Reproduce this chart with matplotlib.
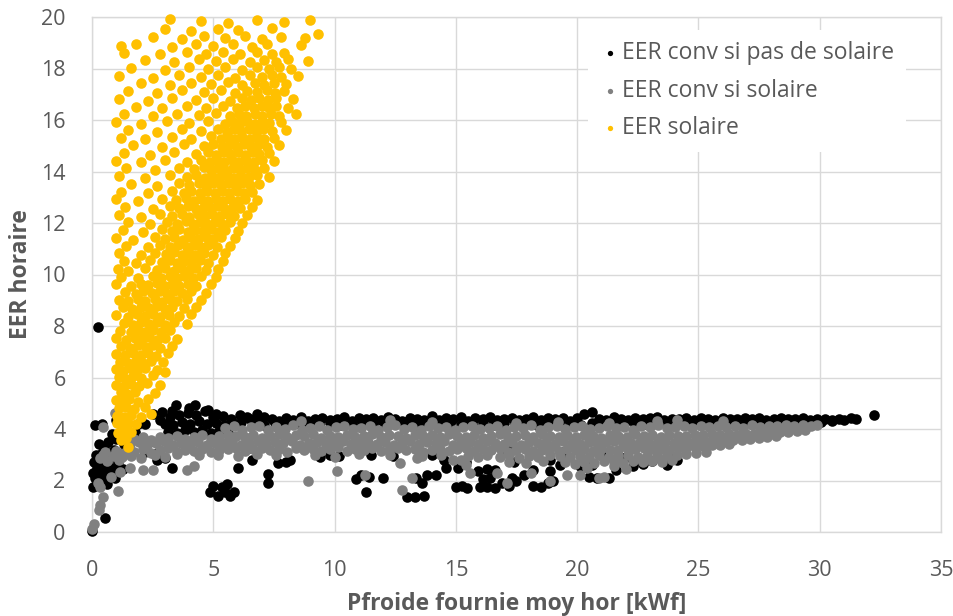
import matplotlib
matplotlib.use("Agg")
import matplotlib.pyplot as plt

# --- Data: hourly EER vs mean hourly cooling power ---
# EER conv si pas de solaire (black)
conv_sans_solaire = [
    # near origin
    (0.00, 0.05), (0.55, 0.55), (0.25, 7.95),
    (0.04, 1.75), (0.12, 2.10), (0.22, 2.50), (0.15, 3.00), (0.30, 2.20), (0.36, 2.75),
    (0.42, 1.95), (0.48, 2.40), (0.50, 3.30), (0.58, 2.10), (0.62, 2.62), (0.66, 3.50),
    (0.72, 2.30), (0.78, 2.92), (0.82, 3.80), (0.86, 2.50), (0.92, 3.20), (0.96, 2.10),
    (1.00, 3.62), (1.06, 2.72), (1.10, 4.22), (1.16, 3.02), (1.22, 3.90), (0.30, 3.40),
    (0.20, 1.85), (0.40, 3.05), (0.62, 1.85), (1.26, 2.45), (1.32, 3.40), (1.40, 4.00),
    (1.50, 3.70), (0.05, 2.30), (0.10, 2.70), (0.12, 4.15), (0.40, 4.20), (1.00, 4.35),
    (1.90, 4.20), (2.20, 4.20), (1.77, 3.90), (2.10, 3.60), (2.30, 3.45), (2.70, 3.07),
    (3.00, 2.87), (2.20, 3.10), (1.50, 3.50), (1.36, 4.04), (2.70, 2.80),
    # cluster at low power
    (3.45, 4.93), (4.25, 4.93), (2.50, 4.60), (2.90, 4.65), (5.10, 4.60), (3.20, 4.45),
    (3.60, 4.55), (3.95, 4.62), (4.30, 4.55), (4.65, 4.70), (5.00, 4.45), (5.40, 4.52),
    (5.75, 4.40), (6.10, 4.55), (3.00, 4.20), (3.35, 4.15), (3.70, 4.28), (4.05, 4.20),
    (4.40, 4.30), (4.75, 4.18), (5.10, 4.25), (5.45, 4.15), (5.80, 4.22), (6.15, 4.28),
    (3.15, 3.90), (3.50, 3.85), (3.85, 3.95), (4.20, 3.88), (4.55, 3.96), (4.90, 3.85),
    (5.25, 3.92), (5.60, 3.85), (2.80, 4.35), (3.30, 4.70), (4.00, 4.80), (4.80, 4.75),
    (6.40, 4.45), (6.80, 4.60),
    # low values
    (3.30, 2.48), (4.85, 1.55), (5.00, 1.80), (5.20, 1.40), (5.35, 1.75), (5.50, 1.55),
    (5.70, 1.38), (5.85, 1.55), (5.55, 1.85), (6.00, 2.50), (6.60, 2.80), (6.50, 3.25),
    (7.25, 2.25), (7.25, 1.90), (7.65, 2.68), (8.00, 2.70), (8.16, 2.80), (9.40, 2.90),
    (9.80, 3.00), (10.20, 2.95), (10.90, 2.05), (11.10, 2.20), (11.40, 2.15), (11.30, 1.55),
    (12.00, 2.10), (13.00, 1.35), (13.30, 1.35), (13.35, 2.10), (13.60, 1.90), (13.70, 1.40),
    (13.80, 2.20), (14.20, 2.20), (14.50, 2.80), (14.60, 2.50), (15.10, 2.50), (15.00, 1.75),
    (15.25, 1.80), (15.45, 1.70), (15.90, 2.35), (16.00, 1.75), (16.30, 1.75), (16.10, 2.05),
    (16.40, 2.10), (15.40, 2.70), (16.60, 1.70), (16.90, 1.90), (17.20, 1.80), (17.30, 2.10),
    (17.50, 2.00), (17.80, 2.20), (18.20, 1.80), (18.50, 1.75), (18.80, 1.90), (19.00, 2.00),
    (18.90, 2.35), (19.30, 2.60), (18.20, 2.40), (18.90, 2.80), (17.40, 2.70), (16.30, 2.45),
    (16.60, 2.40), (19.40, 3.10), (19.60, 2.90), (20.10, 2.55), (20.40, 2.70), (20.60, 2.60),
    (20.50, 2.15), (20.80, 2.10), (21.60, 2.40), (21.30, 2.10), (22.30, 2.55), (22.70, 2.65),
    (23.10, 2.75), (23.70, 2.60), (24.10, 2.80), (23.85, 2.90),
    (11.50, 3.00), (12.40, 2.95), (14.00, 3.00), (16.90, 3.20), (17.30, 3.20), (21.00, 3.00),
    (22.00, 2.90),
    # upper band
    (6.5, 4.40), (6.8, 4.34), (7.1, 4.45), (7.4, 4.38), (7.7, 4.31), (8.0, 4.42), (8.3, 4.36),
    (8.6, 4.47), (8.9, 4.33), (9.2, 4.40), (9.5, 4.44), (9.8, 4.35), (10.1, 4.39), (10.4, 4.46),
    (10.7, 4.32), (11.0, 4.41), (11.3, 4.37), (11.6, 4.43), (11.9, 4.34), (12.2, 4.48),
    (12.5, 4.38), (12.8, 4.33), (13.1, 4.44), (13.4, 4.40), (13.7, 4.36), (14.0, 4.52),
    (14.3, 4.35), (14.6, 4.42), (14.9, 4.38), (15.2, 4.45), (15.5, 4.33), (15.8, 4.41),
    (16.1, 4.37), (16.4, 4.46), (16.7, 4.34), (17.0, 4.40), (17.3, 4.43), (17.6, 4.36),
    (17.9, 4.39), (18.2, 4.47), (18.5, 4.35), (18.8, 4.41), (19.1, 4.38), (19.4, 4.44),
    (19.7, 4.33), (20.0, 4.42), (20.3, 4.58), (20.6, 4.66), (20.9, 4.40), (21.2, 4.36),
    (21.5, 4.45), (21.8, 4.39), (22.1, 4.34), (22.4, 4.43), (22.7, 4.37), (23.0, 4.41),
    (23.3, 4.46), (23.6, 4.35), (23.9, 4.40), (24.2, 4.38), (24.5, 4.44), (24.8, 4.36),
    (25.1, 4.42), (25.4, 4.39), (25.7, 4.35), (26.0, 4.43), (26.3, 4.40), (26.6, 4.37),
    (26.9, 4.41), (27.2, 4.38), (27.5, 4.44), (27.8, 4.36), (28.1, 4.40), (28.4, 4.42),
    (28.7, 4.37), (29.0, 4.39), (29.3, 4.41), (29.6, 4.36), (29.9, 4.40), (30.2, 4.38),
    (30.5, 4.35), (30.8, 4.37), (31.0, 4.34), (31.30, 4.43), (31.50, 4.38), (32.25, 4.53),
    (6.65, 4.20), (7.10, 4.16), (7.55, 4.24), (8.00, 4.18), (8.45, 4.22), (8.90, 4.15),
    (9.35, 4.21), (9.80, 4.25), (10.25, 4.17), (10.70, 4.23), (11.15, 4.19), (11.60, 4.14),
    (12.05, 4.22), (12.50, 4.18), (12.95, 4.26), (13.40, 4.16), (13.85, 4.21), (14.30, 4.19),
    (14.75, 4.24), (15.20, 4.15), (15.65, 4.20), (16.10, 4.23), (16.55, 4.17), (17.00, 4.22),
    (17.45, 4.18), (17.90, 4.25), (18.35, 4.16), (18.80, 4.21), (19.25, 4.19), (19.70, 4.24),
    (20.15, 4.17), (20.60, 4.22), (21.05, 4.20), (21.50, 4.18), (21.95, 4.23), (22.40, 4.16),
    (22.85, 4.21), (23.30, 4.25), (23.75, 4.19), (24.20, 4.22), (24.65, 4.18), (25.10, 4.24),
    (25.55, 4.20), (26.00, 4.23), (26.45, 4.21), (26.90, 4.25), (27.35, 4.22), (27.80, 4.24),
    (28.25, 4.23), (28.70, 4.26), (29.15, 4.25), (29.60, 4.27), (30.05, 4.28), (30.50, 4.30),
]

# EER conv si solaire (grey)
conv_solaire = [
    # near origin
    (0.02, 0.10), (0.10, 0.30), (0.28, 0.85), (0.35, 1.05), (0.45, 1.35), (0.33, 1.75),
    (0.25, 1.90), (0.80, 2.13), (1.07, 1.60), (0.33, 2.87), (0.45, 3.00), (0.45, 4.08),
    (0.95, 4.62), (0.54, 3.10), (1.24, 2.90), (1.15, 2.33), (1.57, 2.47), (2.10, 2.40),
    (2.50, 2.40), (3.90, 2.40), (4.20, 2.56), (0.60, 2.75), (0.85, 2.95), (1.00, 3.15),
    (1.30, 3.05), (1.10, 2.80),
    # scattered low values
    (8.90, 2.00), (10.10, 2.37), (10.00, 2.90), (11.25, 2.20), (12.70, 2.67), (12.80, 1.63),
    (13.20, 2.10), (13.40, 2.87), (14.90, 2.80), (15.20, 2.80), (15.60, 2.30), (15.40, 2.60),
    (16.70, 2.30), (17.10, 1.90), (18.10, 2.30), (18.90, 2.00), (19.60, 2.20), (20.10, 2.20),
    (20.40, 2.50), (20.90, 2.10), (21.10, 2.15), (23.50, 2.80), (22.00, 2.45), (21.50, 2.55),
    # a few high values
    (8.60, 4.30), (12.30, 4.35), (21.30, 4.23), (23.30, 4.30), (24.10, 4.35), (14.00, 4.28),
    (17.50, 4.25), (26.00, 4.30), (19.20, 4.28),
    # main band, top
    (5.50, 4.02), (5.85, 4.10), (6.20, 3.96), (6.55, 4.06), (6.90, 4.12), (7.25, 3.98),
    (7.60, 4.08), (7.95, 4.00), (8.30, 4.14), (8.65, 3.95), (9.00, 4.05), (9.35, 4.11),
    (9.70, 3.97), (10.05, 4.07), (10.40, 4.13), (10.75, 3.99), (11.10, 4.04), (11.45, 4.10),
    (11.80, 3.96), (12.15, 4.08), (12.50, 4.15), (12.85, 4.01), (13.20, 4.06), (13.55, 3.97),
    (13.90, 4.12), (14.25, 4.03), (14.60, 4.09), (14.95, 3.95), (15.30, 4.07), (15.65, 4.13),
    (16.00, 4.00), (16.35, 4.05), (16.70, 4.11), (17.05, 3.98), (17.40, 4.08), (17.75, 4.02),
    (18.10, 4.14), (18.45, 3.96), (18.80, 4.06), (19.15, 4.10), (19.50, 4.01), (19.85, 4.07),
    (20.20, 4.13), (20.55, 3.99), (20.90, 4.05), (21.25, 4.12), (21.60, 4.03), (21.95, 4.09),
    (22.30, 3.97), (22.65, 4.11), (23.00, 4.06), (23.35, 4.14), (23.70, 4.02), (24.05, 4.08),
    (24.40, 4.12), (24.75, 4.04), (25.10, 4.10), (25.45, 4.06), (25.80, 4.13), (26.15, 4.08),
    (26.50, 4.11), (26.85, 4.05), (27.20, 4.14), (27.55, 4.09), (27.90, 4.12), (28.25, 4.10),
    (28.60, 4.15), (28.95, 4.11), (29.30, 4.14), (29.65, 4.12), (29.90, 4.16),
    # main band, second row
    (1.75, 3.62), (2.10, 3.68), (2.45, 3.58), (2.80, 3.70), (3.15, 3.64), (3.50, 3.72),
    (3.85, 3.60), (4.20, 3.69), (4.55, 3.75), (4.90, 3.63), (5.25, 3.71), (5.60, 3.78),
    (5.95, 3.74), (6.30, 3.69), (6.65, 3.78), (7.00, 3.66), (7.35, 3.73), (7.70, 3.80),
    (8.05, 3.68), (8.40, 3.75), (8.75, 3.71), (9.10, 3.79), (9.45, 3.65), (9.80, 3.74),
    (10.15, 3.70), (10.50, 3.77), (10.85, 3.67), (11.20, 3.73), (11.55, 3.81), (11.90, 3.69),
    (12.25, 3.76), (12.60, 3.72), (12.95, 3.66), (13.30, 3.78), (13.65, 3.71), (14.00, 3.75),
    (14.35, 3.68), (14.70, 3.80), (15.05, 3.73), (15.40, 3.70), (15.75, 3.77), (16.10, 3.65),
    (16.45, 3.74), (16.80, 3.79), (17.15, 3.69), (17.50, 3.72), (17.85, 3.76), (18.20, 3.67),
    (18.55, 3.81), (18.90, 3.73), (19.25, 3.70), (19.60, 3.75), (19.95, 3.68), (20.30, 3.78),
    (20.65, 3.72), (21.00, 3.66), (21.35, 3.77), (21.70, 3.74), (22.05, 3.70), (22.40, 3.79),
    (22.75, 3.73), (23.10, 3.76), (23.45, 3.69), (23.80, 3.78), (24.15, 3.74), (24.50, 3.71),
    (24.85, 3.77), (25.20, 3.75), (25.55, 3.80), (25.90, 3.76), (26.25, 3.79), (26.60, 3.78),
    (26.95, 3.82), (27.30, 3.80), (27.65, 3.84), (28.00, 3.85), (28.35, 3.88), (28.70, 3.90),
    (29.05, 3.93), (29.40, 3.96),
    # main band, third row
    (1.58, 3.40), (1.93, 3.48), (2.28, 3.36), (2.63, 3.45), (2.98, 3.52), (3.33, 3.38),
    (3.68, 3.47), (4.03, 3.42), (4.38, 3.50), (4.73, 3.37), (5.08, 3.46), (5.43, 3.44),
    (5.78, 3.52), (6.13, 3.39), (6.48, 3.47), (6.83, 3.55), (7.18, 3.41), (7.53, 3.49),
    (7.88, 3.45), (8.23, 3.53), (8.58, 3.38), (8.93, 3.46), (9.28, 3.50), (9.63, 3.42),
    (9.98, 3.48), (10.33, 3.54), (10.68, 3.40), (11.03, 3.47), (11.38, 3.51), (11.73, 3.43),
    (12.08, 3.49), (12.43, 3.37), (12.78, 3.45), (13.13, 3.53), (13.48, 3.41), (13.83, 3.48),
    (14.18, 3.44), (14.53, 3.52), (14.88, 3.39), (15.23, 3.46), (15.58, 3.50), (15.93, 3.42),
    (16.28, 3.55), (16.63, 3.47), (16.98, 3.43), (17.33, 3.49), (17.68, 3.38), (18.03, 3.51),
    (18.38, 3.45), (18.73, 3.48), (19.08, 3.42), (19.43, 3.53), (19.78, 3.46), (20.13, 3.40),
    (20.48, 3.50), (20.83, 3.44), (21.18, 3.48), (21.53, 3.52), (21.88, 3.47), (22.23, 3.45),
    (22.58, 3.51), (22.93, 3.49), (23.28, 3.46), (23.63, 3.50), (23.98, 3.44), (24.33, 3.48),
    (24.68, 3.47), (25.03, 3.50), (25.38, 3.49), (25.73, 3.52), (26.08, 3.55), (26.43, 3.56),
    (26.78, 3.58), (27.13, 3.60), (27.48, 3.64), (27.83, 3.68), (28.18, 3.72),
    # main band, fourth row
    (1.75, 3.12), (2.10, 3.22), (2.45, 3.08), (2.80, 3.18), (3.15, 3.25), (3.50, 3.10),
    (3.85, 3.20), (4.20, 3.15), (4.55, 3.24), (4.90, 3.09), (5.25, 3.19), (5.60, 3.22),
    (5.95, 3.28), (6.30, 3.14), (6.65, 3.21), (7.00, 3.26), (7.35, 3.17), (7.70, 3.23),
    (8.05, 3.12), (8.40, 3.27), (8.75, 3.19), (9.10, 3.24), (9.45, 3.15), (9.80, 3.22),
    (10.15, 3.29), (10.50, 3.16), (10.85, 3.21), (11.20, 3.18), (11.55, 3.25), (11.90, 3.13),
    (12.25, 3.20), (12.60, 3.26), (12.95, 3.17), (13.30, 3.23), (13.65, 3.11), (14.00, 3.19),
    (14.35, 3.24), (14.70, 3.16), (15.05, 3.21), (15.40, 3.27), (15.75, 3.14), (16.10, 3.22),
    (16.45, 3.18), (16.80, 3.25), (17.15, 3.12), (17.50, 3.20), (17.85, 3.23), (18.20, 3.15),
    (18.55, 3.19), (18.90, 3.26), (19.25, 3.13), (19.60, 3.21), (19.95, 3.17), (20.30, 3.24),
    (20.65, 3.16), (21.00, 3.22), (21.35, 3.18), (21.70, 3.20), (22.05, 3.25), (22.40, 3.22),
    (22.75, 3.27), (23.10, 3.21), (23.45, 3.24), (23.80, 3.20), (24.15, 3.25), (24.50, 3.27),
    (24.85, 3.30), (25.20, 3.33), (25.55, 3.36), (25.90, 3.38), (26.25, 3.41),
    # main band, lower rows
    (1.60, 2.95), (2.00, 2.88), (2.60, 3.00), (3.00, 2.92), (3.50, 3.02), (4.40, 2.98),
    (5.20, 3.00), (6.00, 2.95), (6.80, 3.02), (7.60, 2.98), (9.20, 3.00), (11.00, 3.02),
    (12.30, 2.98), (13.60, 2.96), (14.40, 3.00),
    (15.50, 2.95), (15.90, 2.90), (16.30, 2.98), (16.80, 2.93), (17.20, 3.00), (17.60, 2.88),
    (18.00, 2.96), (18.40, 2.92), (18.90, 2.99), (19.30, 2.94), (19.70, 2.90), (20.10, 2.97),
    (20.50, 2.93), (20.90, 2.98), (21.30, 2.91), (21.70, 2.95), (22.10, 2.99), (22.50, 2.92),
    (22.90, 2.96), (23.30, 2.94), (23.70, 2.98), (24.10, 3.00), (24.50, 3.04), (24.90, 3.08),
    (25.30, 3.12),
    (17.20, 2.72), (17.90, 2.68), (18.60, 2.74), (19.50, 2.70), (19.90, 2.66), (20.30, 2.73),
    (20.70, 2.69), (21.10, 2.75), (21.50, 2.71), (21.90, 2.67), (22.30, 2.74), (22.70, 2.70),
    (23.10, 2.76), (23.50, 2.72), (23.90, 2.80),
]

# EER solaire (orange)
eer_solaire = [
    (1.50, 3.32), (1.18, 3.58), (1.42, 3.66), (1.08, 3.86), (1.30, 3.95), (1.62, 3.90),
    (1.02, 4.22), (1.22, 4.15), (1.50, 4.25), (1.80, 4.18),
    (1.05, 4.52), (1.32, 4.45), (1.60, 4.56), (2.02, 4.48), (2.42, 4.58),
    (1.12, 4.82), (1.40, 4.86), (1.72, 4.78), (2.20, 4.85),
    (0.98, 5.12), (1.28, 5.08), (1.52, 5.15), (1.90, 5.05), (2.30, 5.18),
    (1.20, 5.42), (1.46, 5.36), (1.76, 5.45), (2.60, 5.40),
    (1.00, 5.72), (1.30, 5.66), (1.62, 5.75), (1.92, 5.68), (2.28, 5.78), (2.82, 5.70),
    (1.10, 6.02), (1.40, 5.96), (1.70, 6.05), (2.02, 5.98), (2.52, 6.08),
    (1.00, 6.32), (1.26, 6.25), (1.56, 6.36), (1.86, 6.28), (2.20, 6.35), (2.70, 6.30), (3.02, 6.22),
    (1.16, 6.62), (1.50, 6.58), (1.80, 6.66), (2.10, 6.55), (2.42, 6.64), (2.92, 6.60),
    (1.00, 6.92), (1.36, 6.86), (1.70, 6.95), (2.00, 6.88), (2.30, 6.97), (2.62, 6.85), (3.12, 6.94),
    (1.20, 7.22), (1.56, 7.16), (1.90, 7.25), (2.22, 7.18), (2.50, 7.27), (2.80, 7.15), (3.30, 7.22),
    (1.00, 7.52), (1.40, 7.46), (1.76, 7.55), (2.06, 7.48), (2.36, 7.56), (2.70, 7.45), (3.02, 7.54),
    (3.52, 7.48),
    (1.16, 7.82), (1.60, 7.76), (1.90, 7.85), (2.20, 7.78), (2.50, 7.86), (2.86, 7.75), (3.20, 7.84),
    (1.30, 8.12), (1.70, 8.05), (2.00, 8.15), (2.36, 8.08), (2.66, 8.16), (3.00, 8.04), (3.40, 8.14),
    (3.90, 8.08),
    (1.00, 8.42), (1.50, 8.35), (1.86, 8.45), (2.20, 8.38), (2.50, 8.46), (2.80, 8.36), (3.16, 8.44),
    (3.60, 8.38), (4.10, 8.45),
    (1.26, 8.72), (1.66, 8.65), (2.00, 8.75), (2.36, 8.68), (2.70, 8.76), (3.00, 8.66), (3.30, 8.74),
    (3.80, 8.68), (4.30, 8.75),
    (1.10, 9.02), (1.50, 8.96), (1.90, 9.05), (2.20, 8.98), (2.60, 9.06), (2.90, 8.95), (3.20, 9.04),
    (3.50, 8.98), (3.90, 9.06), (4.50, 9.00),
    (1.36, 9.32), (1.80, 9.25), (2.10, 9.35), (2.46, 9.28), (2.80, 9.36), (3.10, 9.25), (3.40, 9.34),
    (3.70, 9.27), (4.10, 9.35), (4.70, 9.30),
    (1.00, 9.62), (1.60, 9.55), (2.00, 9.65), (2.30, 9.58), (2.70, 9.66), (3.00, 9.55), (3.30, 9.64),
    (3.60, 9.57), (3.96, 9.65), (4.30, 9.56), (4.90, 9.62),
    (1.20, 9.92), (1.90, 9.85), (2.50, 9.95), (2.86, 9.88), (3.20, 9.96), (3.50, 9.85), (3.80, 9.94),
    (4.16, 9.87), (4.50, 9.95), (5.10, 9.90),
    (1.06, 10.22), (1.50, 10.15), (2.20, 10.25), (2.70, 10.18), (3.00, 10.26), (3.36, 10.15),
    (3.66, 10.24), (4.00, 10.17), (4.30, 10.25), (4.70, 10.16), (5.20, 10.22),
    (1.30, 10.52), (1.80, 10.45), (2.40, 10.55), (2.90, 10.48), (3.20, 10.56), (3.50, 10.45),
    (3.80, 10.54), (4.10, 10.47), (4.46, 10.55), (4.80, 10.46), (5.40, 10.52),
    (1.10, 10.82), (2.00, 10.75), (2.60, 10.85), (3.06, 10.78), (3.40, 10.86), (3.70, 10.75),
    (4.00, 10.84), (4.30, 10.77), (4.60, 10.85), (5.00, 10.76), (5.50, 10.82),
    (1.40, 11.12), (2.30, 11.05), (2.80, 11.15), (3.20, 11.08), (3.56, 11.16), (3.90, 11.05),
    (4.20, 11.14), (4.50, 11.07), (4.80, 11.15), (5.16, 11.06), (5.70, 11.12),
    (1.00, 11.42), (1.70, 11.35), (2.60, 11.45), (3.00, 11.38), (3.40, 11.46), (3.76, 11.35),
    (4.06, 11.44), (4.36, 11.37), (4.70, 11.45), (5.00, 11.36), (5.30, 11.44), (5.90, 11.40),
    (1.26, 11.72), (2.10, 11.65), (2.90, 11.75), (3.30, 11.68), (3.60, 11.76), (3.96, 11.65),
    (4.26, 11.74), (4.56, 11.67), (4.90, 11.75), (5.20, 11.66), (5.50, 11.74), (6.00, 11.70),
    (1.50, 12.02), (2.40, 11.95), (3.10, 12.05), (3.50, 11.98), (3.86, 12.06), (4.16, 11.95),
    (4.46, 12.04), (4.76, 11.97), (5.06, 12.05), (5.36, 11.96), (5.70, 12.04), (6.20, 12.00),
    (1.10, 12.32), (2.00, 12.25), (2.80, 12.35), (3.30, 12.28), (3.70, 12.36), (4.00, 12.25),
    (4.36, 12.34), (4.66, 12.27), (4.96, 12.35), (5.26, 12.26), (5.56, 12.34), (5.86, 12.27),
    (6.40, 12.32),
    (1.36, 12.62), (2.50, 12.55), (3.20, 12.65), (3.60, 12.58), (3.96, 12.66), (4.30, 12.55),
    (4.60, 12.64), (4.90, 12.57), (5.20, 12.65), (5.50, 12.56), (5.80, 12.64), (6.10, 12.57),
    (6.60, 12.62),
    (1.00, 12.92), (1.90, 12.85), (2.90, 12.95), (3.46, 12.88), (3.86, 12.96), (4.20, 12.85),
    (4.50, 12.94), (4.80, 12.87), (5.10, 12.95), (5.40, 12.86), (5.70, 12.94), (6.00, 12.87),
    (6.30, 12.95), (6.80, 12.90),
    (1.20, 13.22), (2.30, 13.15), (3.30, 13.25), (3.80, 13.18), (4.10, 13.26), (4.46, 13.15),
    (4.76, 13.24), (5.06, 13.17), (5.36, 13.25), (5.66, 13.16), (5.96, 13.24), (6.26, 13.17),
    (6.60, 13.22),
    (1.60, 13.52), (2.70, 13.45), (3.60, 13.55), (4.00, 13.48), (4.40, 13.56), (4.70, 13.45),
    (5.00, 13.54), (5.30, 13.47), (5.60, 13.55), (5.90, 13.46), (6.20, 13.54), (6.50, 13.47),
    (6.90, 13.52),
    (1.10, 13.82), (2.20, 13.75), (3.20, 13.85), (3.90, 13.78), (4.30, 13.86), (4.66, 13.75),
    (4.96, 13.84), (5.26, 13.77), (5.56, 13.85), (5.86, 13.76), (6.16, 13.84), (6.46, 13.77),
    (6.80, 13.85), (7.30, 13.80),
    (1.40, 14.12), (2.60, 14.05), (3.60, 14.15), (4.20, 14.08), (4.60, 14.16), (4.90, 14.05),
    (5.20, 14.14), (5.50, 14.07), (5.80, 14.15), (6.10, 14.06), (6.40, 14.14), (6.70, 14.07),
    (7.10, 14.12),
    (1.00, 14.42), (2.00, 14.35), (3.00, 14.45), (3.90, 14.38), (4.50, 14.46), (4.86, 14.35),
    (5.16, 14.44), (5.46, 14.37), (5.76, 14.45), (6.06, 14.36), (6.36, 14.44), (6.66, 14.37),
    (7.00, 14.45), (7.50, 14.40),
    (1.30, 14.72), (2.40, 14.65), (3.40, 14.75), (4.30, 14.68), (4.80, 14.76), (5.10, 14.65),
    (5.40, 14.74), (5.70, 14.67), (6.00, 14.75), (6.30, 14.66), (6.60, 14.74), (6.90, 14.67),
    (7.30, 14.72),
    (1.70, 15.02), (2.90, 14.95), (3.80, 15.05), (4.60, 14.98), (5.00, 15.06), (5.36, 14.95),
    (5.66, 15.04), (5.96, 14.97), (6.26, 15.05), (6.56, 14.96), (6.86, 15.04), (7.20, 14.97),
    (7.70, 15.02),
    (1.20, 15.32), (2.20, 15.25), (3.30, 15.35), (4.10, 15.28), (4.90, 15.36), (5.30, 15.25),
    (5.60, 15.34), (5.90, 15.27), (6.20, 15.35), (6.50, 15.26), (6.80, 15.34), (7.10, 15.27),
    (7.50, 15.32),
    (1.50, 15.62), (2.70, 15.55), (3.70, 15.65), (4.50, 15.58), (5.20, 15.66), (5.56, 15.55),
    (5.86, 15.64), (6.16, 15.57), (6.46, 15.65), (6.76, 15.56), (7.06, 15.64), (7.40, 15.57),
    (8.00, 15.62),
    (1.00, 15.92), (2.00, 15.85), (3.10, 15.95), (4.00, 15.88), (4.80, 15.96), (5.50, 15.85),
    (5.80, 15.94), (6.10, 15.87), (6.40, 15.95), (6.70, 15.86), (7.00, 15.94), (7.30, 15.87),
    (7.80, 15.92),
    (1.30, 16.22), (2.50, 16.15), (3.50, 16.25), (4.40, 16.18), (5.10, 16.26), (5.70, 16.15),
    (6.06, 16.24), (6.36, 16.17), (6.70, 16.25), (7.00, 16.16), (7.36, 16.24), (7.70, 16.17),
    (8.40, 16.22),
    (1.80, 16.52), (2.90, 16.45), (3.90, 16.55), (4.70, 16.48), (5.40, 16.56), (5.96, 16.45),
    (6.30, 16.54), (6.66, 16.47), (7.00, 16.55), (7.30, 16.46), (7.60, 16.54), (8.10, 16.48),
    (1.10, 16.82), (2.30, 16.75), (3.30, 16.85), (4.30, 16.78), (5.00, 16.86), (5.70, 16.75),
    (6.20, 16.84), (6.56, 16.77), (6.90, 16.85), (7.26, 16.76), (7.60, 16.84), (8.30, 16.80),
    (1.50, 17.12), (2.70, 17.05), (3.70, 17.15), (4.60, 17.08), (5.30, 17.16), (5.90, 17.05),
    (6.40, 17.14), (6.80, 17.07), (7.20, 17.15), (7.56, 17.06), (7.90, 17.12),
    (2.00, 17.42), (3.20, 17.35), (4.10, 17.45), (4.90, 17.38), (5.60, 17.46), (6.20, 17.35),
    (6.70, 17.44), (7.10, 17.37), (7.50, 17.45), (8.00, 17.40),
    (1.10, 17.72), (2.50, 17.65), (3.60, 17.75), (4.50, 17.68), (5.20, 17.76), (5.90, 17.65),
    (6.50, 17.74), (7.00, 17.67), (7.40, 17.75), (7.80, 17.66), (8.50, 17.72),
    (1.60, 18.02), (3.00, 17.95), (4.00, 18.05), (4.80, 17.98), (5.50, 18.06), (6.20, 17.95),
    (6.80, 18.04), (7.30, 17.97), (7.70, 18.05), (8.20, 18.00),
    (2.20, 18.32), (3.40, 18.25), (4.40, 18.35), (5.10, 18.28), (5.80, 18.36), (6.50, 18.25),
    (7.10, 18.34), (7.60, 18.27), (8.10, 18.35), (8.90, 18.30),
    (1.30, 18.62), (2.80, 18.55), (3.90, 18.65), (4.70, 18.58), (5.40, 18.66), (6.10, 18.55),
    (6.80, 18.64), (7.40, 18.57), (7.90, 18.62),
    (1.20, 18.88), (1.80, 18.95), (3.30, 18.85), (4.30, 18.95), (5.00, 18.88), (5.80, 18.96),
    (6.60, 18.85), (7.20, 18.94), (8.60, 18.90),
    (2.50, 19.22), (3.70, 19.15), (4.60, 19.25), (5.50, 19.18), (6.30, 19.26), (7.00, 19.15),
    (7.80, 19.24), (8.80, 19.20),
    (3.00, 19.52), (4.10, 19.45), (5.20, 19.55), (6.00, 19.48), (7.40, 19.56), (9.30, 19.35),
    (3.20, 19.92), (4.50, 19.85), (5.60, 19.78), (6.80, 19.88), (7.90, 19.82), (9.00, 19.90),
]

series = [
    ("EER conv si pas de solaire", conv_sans_solaire, "#000000"),
    ("EER conv si solaire", conv_solaire, "#808080"),
    ("EER solaire", eer_solaire, "#FFC000"),
]

text_grey = "#595959"
grid_grey = "#D9D9D9"
plt.rcParams["font.family"] = ["Open Sans", "DejaVu Sans"]

# --- Plot ---
fig = plt.figure(figsize=(9.54, 6.16), dpi=100)
ax = fig.add_axes([92 / 954, 84 / 616, 849 / 954, 515 / 616])

for label, pts, color in series:
    xs = [p[0] for p in pts]
    ys = [p[1] for p in pts]
    ax.scatter(xs, ys, s=58, color=color, linewidths=0, label=label, clip_on=False, zorder=3)

ax.set_xlim(0, 35)
ax.set_ylim(0, 20)
ax.set_xticks(range(0, 36, 5))
ax.set_yticks(range(0, 21, 2))
ax.grid(True, color=grid_grey, linewidth=1, zorder=0)
ax.set_axisbelow(True)
for side in ax.spines.values():
    side.set_color(grid_grey)
    side.set_linewidth(1)
ax.tick_params(length=0, labelsize=15.5, labelcolor=text_grey)
ax.tick_params(axis="x", pad=20)
ax.tick_params(axis="y", pad=19)

ax.set_xlabel("Pfroide fournie moy hor [kWf]", fontsize=16.5, fontweight="bold", color=text_grey, labelpad=8)
ax.set_ylabel("EER horaire", fontsize=16.5, fontweight="bold", color=text_grey, labelpad=6)

leg = ax.legend(loc="upper right", bbox_to_anchor=(0.972, 0.997), fontsize=16.5, frameon=True,
                facecolor="white", edgecolor="none", framealpha=1, markerscale=0.5,
                handletextpad=0.1, borderpad=0.5, labelspacing=0.58, handlelength=0.9)
for t in leg.get_texts():
    t.set_color(text_grey)

fig.savefig("out.png", dpi=100)
